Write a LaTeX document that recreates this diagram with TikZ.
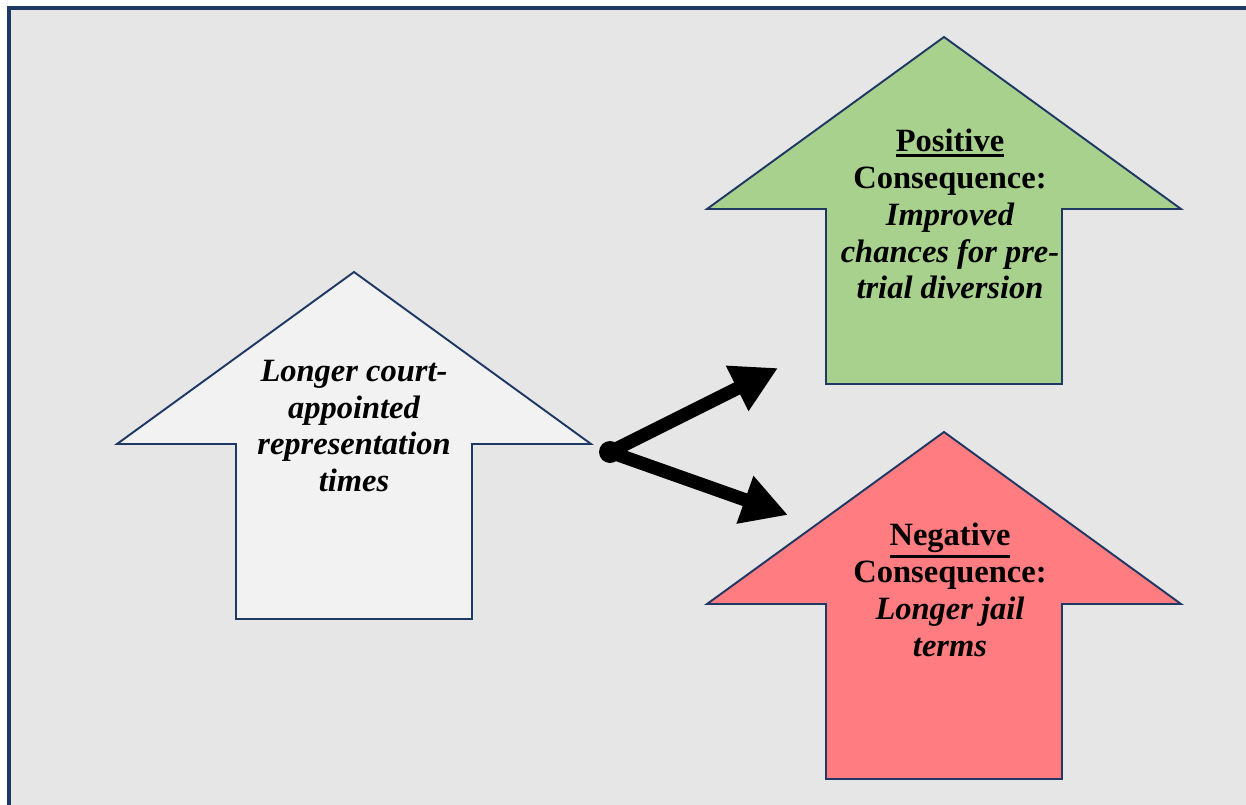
\documentclass[tikz,border=0pt]{standalone}
\usepackage{fontspec}
\setmainfont{Liberation Serif}
\usetikzlibrary{arrows.meta}

\definecolor{frame}{HTML}{1F3864}
\definecolor{panel}{HTML}{E6E6E6}
\definecolor{startfill}{HTML}{F2F2F2}
\definecolor{posfill}{HTML}{A9D18E}
\definecolor{negfill}{HTML}{FF7C80}

\tikzset{
  blockarrow/.style={draw=frame, line width=1.1pt, line join=miter},
  blocktext/.style={align=center, font=\fontsize{18.5}{21}\selectfont\bfseries},
  link/.style={line width=7.6pt, -{Triangle[length=26pt,width=27pt]}}
}

% up arrow, tip at (#1,#2)
\newcommand\uparrowshape[3]{%
  \draw[blockarrow, fill=#3] (#1,#2) -- ++(237,172) -- ++(-119,0) -- ++(0,175)
    -- ++(-236,0) -- ++(0,-175) -- ++(-119,0) -- cycle;}
% heavier underline
\newcommand\thickul[1]{\leavevmode\vtop{\hbox{#1}\kern1.4pt\hrule height 1.7pt}}

\begin{document}
\begin{tikzpicture}[x=0.02cm, y=-0.02cm]
  \useasboundingbox (0,0) rectangle (1246,804);
  \fill[white] (0,0) rectangle (1246,804);
  \draw[fill=panel, draw=frame, line width=2.2pt] (9,8) rectangle (1270,830);

  \uparrowshape{354}{272}{startfill}
  \uparrowshape{944}{37}{posfill}
  \uparrowshape{944}{432}{negfill}

  \node[blocktext] (cause) at (354,426)
    {\itshape Longer court-\\\itshape appointed\\\itshape representation\\\itshape times};
  \node[blocktext] (pos) at (950,214)
    {\thickul{Positive}\\Consequence:\\\itshape Improved\\\itshape chances for pre-\\\itshape trial diversion};
  \node[blocktext] (neg) at (950,590)
    {\thickul{Negative}\\Consequence:\\\itshape Longer jail\\\itshape terms};

  \coordinate (split) at (610,452);
  \coordinate (up) at (778,368);
  \coordinate (down) at (788,515);
  \fill (split) circle (11);
  \draw[link] (split) -- (up);
  \draw[link] (split) -- (down);
\end{tikzpicture}
\end{document}
